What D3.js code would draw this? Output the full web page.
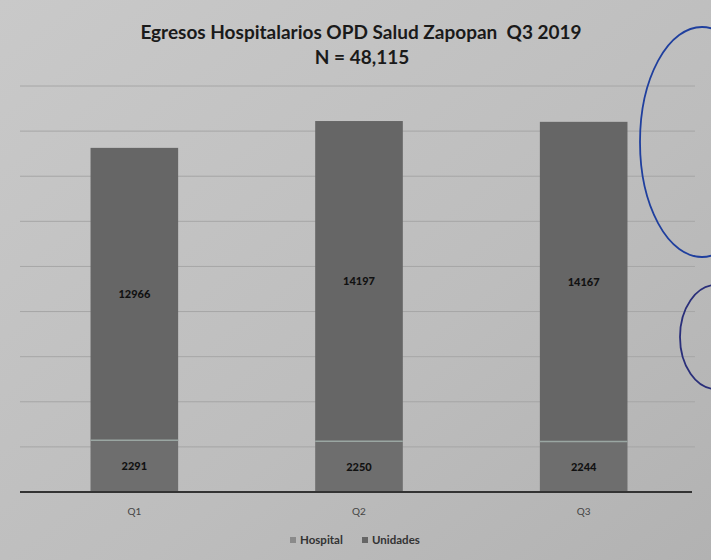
<!DOCTYPE html>
<html><head><meta charset="utf-8">
<script src="https://cdn.jsdelivr.net/npm/d3@7"></script>
<style>body{margin:0;background:#bcbcbc;}svg{display:block;}</style>
</head><body>
<svg id="c" width="711" height="560"></svg>
<script>
const categories = ["Q1", "Q2", "Q3"];
const hospital = [2291, 2250, 2244];
const unidades = [12966, 14197, 14167];
const seriesNames = ["Hospital", "Unidades"];
const yTicks = [0, 2000, 4000, 6000, 8000, 10000, 12000, 14000, 16000, 18000];
const titleLines = ["Egresos Hospitalarios OPD Salud Zapopan\u00a0\u00a0Q3 2019", "N = 48,115"];

const svg = d3.select("#c");
const W = 711, H = 560;
const defs = svg.append("defs");
const g1 = defs.append("linearGradient").attr("id","bg").attr("x1",0).attr("y1",0).attr("x2",1).attr("y2",1);
g1.append("stop").attr("offset","0%").attr("stop-color","#c9c9c9");
g1.append("stop").attr("offset","60%").attr("stop-color","#bdbdbd");
g1.append("stop").attr("offset","100%").attr("stop-color","#b2b2b2");
svg.append("rect").attr("width",W).attr("height",H).attr("fill","url(#bg)");

const x = d3.scaleBand().domain(categories).range([22, 696]).paddingInner(0.61).paddingOuter(0.305);
const y = d3.scaleLinear().domain([0, 18000]).range([492, 86]);

// gridlines
svg.append("g").selectAll("line").data(yTicks.slice(1)).join("line")
  .attr("x1", 20).attr("x2", 695)
  .attr("y1", d => y(d)).attr("y2", d => y(d))
  .attr("stroke", "#a6a6a6").attr("stroke-width", 1);

const data = categories.map((c,i)=>({cat:c, Hospital:hospital[i], Unidades:unidades[i]}));
const stack = d3.stack().keys(seriesNames)(data);
const colors = {Hospital:"#6e6e6e", Unidades:"#666666"};

const layers = svg.append("g").selectAll("g").data(stack).join("g").attr("fill", d => colors[d.key]);
layers.selectAll("rect").data(d => d).join("rect")
  .attr("x", d => x(d.data.cat)).attr("width", x.bandwidth())
  .attr("y", d => y(d[1])).attr("height", d => y(d[0]) - y(d[1]));

// thin separator between segments
svg.append("g").selectAll("line").data(stack[0]).join("line")
  .attr("x1", d => x(d.data.cat)).attr("x2", d => x(d.data.cat) + x.bandwidth())
  .attr("y1", d => y(d[1])).attr("y2", d => y(d[1]))
  .attr("stroke", "#9aa6a2").attr("stroke-width", 1.5);

// labels
stack.forEach(s => {
  svg.append("g").selectAll("text").data(s).join("text")
    .attr("x", d => x(d.data.cat) + x.bandwidth()/2)
    .attr("y", d => (y(d[0]) + y(d[1]))/2 + 4)
    .attr("text-anchor","middle")
    .attr("font-family","Lato, sans-serif").attr("font-weight","900").attr("font-size",11)
    .attr("fill","#111")
    .text(d => d.data[s.key]);
});

// axis
const xAxis = svg.append("g").attr("transform", `translate(0,${y(0)})`).call(d3.axisBottom(x).tickSize(0).tickPadding(16));
xAxis.select(".domain").attr("stroke","#333").attr("stroke-width",2).attr("d","M20,0H692");
xAxis.selectAll("text").attr("font-family","Lato, sans-serif").attr("font-size",10).attr("fill","#444");

// title
svg.append("text").attr("x",361).attr("y",39).attr("text-anchor","middle")
  .attr("font-family","Lato, sans-serif").attr("font-weight","bold").attr("font-size",19).attr("fill","#1a1a1a").text(titleLines[0]);
svg.append("text").attr("x",362).attr("y",64).attr("text-anchor","middle")
  .attr("font-family","Lato, sans-serif").attr("font-weight","bold").attr("font-size",19).attr("fill","#1a1a1a").text(titleLines[1]);

// legend
const leg = svg.append("g").attr("transform","translate(290,544)");
const legX = [0, 72];
seriesNames.forEach((n,i)=>{
  leg.append("rect").attr("x",legX[i]).attr("y",-7).attr("width",6).attr("height",6).attr("fill", i===0?"#8a8a8a":"#666");
  leg.append("text").attr("x",legX[i]+10).attr("y",0).attr("font-family","Lato, sans-serif").attr("font-weight","bold")
    .attr("font-size",11.5).attr("fill","#333").text(n);
});

// ink annotations on the right
svg.append("ellipse").attr("cx",702).attr("cy",142).attr("rx",62).attr("ry",115)
  .attr("fill","none").attr("stroke","#1f3f9e").attr("stroke-width",1.8);
svg.append("ellipse").attr("cx",716).attr("cy",337).attr("rx",36).attr("ry",52)
  .attr("fill","none").attr("stroke","#2a2f7a").attr("stroke-width",1.8);
</script>
</body></html>
